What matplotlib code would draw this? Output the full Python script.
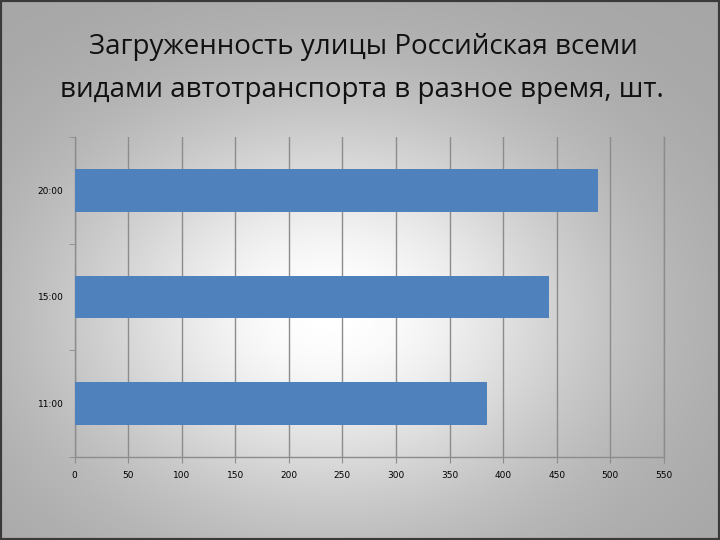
import numpy as np
import matplotlib.pyplot as plt
from matplotlib.patches import Rectangle

# data
times = ['11:00', '15:00', '20:00']
counts = [385, 443, 489]
x_ticks = list(range(0, 551, 50))
title_lines = ['Загруженность улицы Российская всеми',
               'видами автотранспорта в разное время, шт.']

BAR_COLOR = '#4F81BD'
GRID_COLOR = '#8c8c8c'

fig = plt.figure(figsize=(7.2, 5.4), dpi=100)

# radial gradient background
bg = fig.add_axes([0, 0, 1, 1], zorder=-10)
gx, gy = np.meshgrid(np.linspace(0, 1, 360), np.linspace(0, 1, 270))
r = np.sqrt(((gx - 0.46) / 0.75) ** 2 + ((gy - 0.58) / 0.75) ** 2)
shade = 0.645 + 0.355 * np.exp(-(r / 0.5) ** 2)
bg.imshow(shade, cmap='gray', vmin=0, vmax=1, extent=[0, 1, 0, 1],
          aspect='auto', interpolation='bicubic')
bg.add_patch(Rectangle((0, 0), 1, 1, fill=False, edgecolor='#3a3a3a',
                       linewidth=3, transform=bg.transAxes))
bg.set_xlim(0, 1)
bg.set_ylim(0, 1)
bg.axis('off')

fig.text(0.505, 0.900, title_lines[0], ha='center', va='baseline',
         fontsize=20, family='Open Sans', color='#111111')
fig.text(0.503, 0.820, title_lines[1], ha='center', va='baseline',
         fontsize=20, family='Open Sans', color='#111111')

ax = fig.add_axes([0.1035, 0.1537, 0.8185, 0.5926])
ax.patch.set_alpha(0)
y = np.arange(len(times))
ax.barh(y, counts, height=0.4, color=BAR_COLOR, zorder=3)

ax.set_xlim(0, 550)
ax.set_ylim(-0.5, len(times) - 0.5)
ax.set_xticks(x_ticks)
ax.set_xticklabels([str(v) for v in x_ticks], fontsize=6.5)
ax.set_yticks(y)
ax.set_yticklabels(times, fontsize=6.5)
ax.set_yticks(np.arange(-0.5, len(times)), minor=True)
ax.tick_params(axis='y', which='major', length=0, pad=8)
ax.tick_params(axis='y', which='minor', length=4, color=GRID_COLOR)
ax.tick_params(axis='x', length=4, color=GRID_COLOR, pad=6)

ax.grid(axis='x', color=GRID_COLOR, linewidth=1, zorder=0)
ax.axvline(550, color=GRID_COLOR, linewidth=1, clip_on=False, zorder=0)
ax.set_axisbelow(True)
for side in ['top', 'right']:
    ax.spines[side].set_visible(False)
for side in ['left', 'bottom']:
    ax.spines[side].set_color(GRID_COLOR)
    ax.spines[side].set_linewidth(1)

fig.savefig('out.png', dpi=100)
